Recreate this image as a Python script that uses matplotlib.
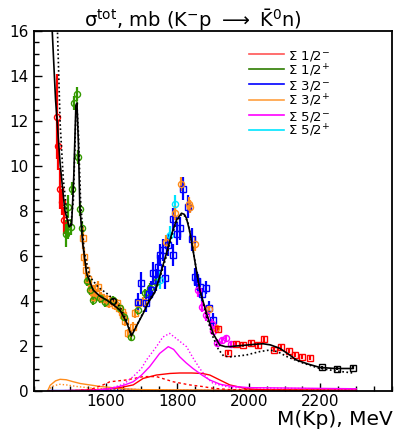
import matplotlib
matplotlib.use("Agg")
import matplotlib.pyplot as plt
from matplotlib.ticker import MultipleLocator

plt.rcParams["font.family"] = ["DejaVu Sans"]
plt.rcParams["mathtext.fontset"] = "dejavusans"

RED, GREEN, BLUE = "#ff0000", "#339900", "#0000ff"
ORANGE, MAGENTA, CYAN = "#ff8c1a", "#ff00ff", "#00e5ff"

# ---- measured points (mass in MeV, sigma in mb, error) ----
red_circ_m = [1463, 1468, 1473, 1477, 1484]
red_circ_s = [12.2, 10.9, 9.0, 8.4, 7.6]
red_circ_e = [1.9, 1.1, 0.9, 0.6, 0.6]

green_m = [1488, 1494, 1496, 1502, 1507, 1512, 1519, 1524, 1528, 1535,
           1549, 1556, 1565, 1584, 1597, 1621, 1640, 1652, 1671, 1690, 1710, 1725, 1742]
green_s = [7.0, 8.2, 7.15, 7.3, 9.0, 12.8, 13.2, 10.4, 8.1, 7.25,
           4.9, 4.5, 4.04, 4.12, 3.95, 4.04, 3.7, 3.3, 2.4, 3.6, 4.34, 4.6, 4.86]
green_e = [0.6, 0.5, 0.4, 0.35, 0.3, 0.3, 0.3, 0.3, 0.3, 0.3,
           0.25, 0.25, 0.2, 0.2, 0.2, 0.2, 0.2, 0.2, 0.15, 0.2, 0.2, 0.2, 0.2]

orange_sq_m = [1536, 1539, 1544, 1552, 1558, 1565, 1568, 1574, 1580, 1587, 1594, 1603,
               1610, 1619, 1626, 1633, 1638, 1645, 1649, 1655, 1663, 1677, 1682, 1691, 1705]
orange_sq_s = [6.8, 5.97, 5.4, 5.0, 4.6, 4.4, 4.19, 4.3, 4.64, 4.2, 4.1, 4.07,
               3.9, 4.0, 3.82, 3.9, 3.67, 3.5, 3.38, 3.1, 2.56, 2.86, 3.45, 3.9, 3.97]
orange_sq_e = [0.5, 0.4, 0.3, 0.3, 0.25, 0.25, 0.25, 0.25, 0.25, 0.2, 0.2, 0.2,
               0.2, 0.2, 0.2, 0.2, 0.2, 0.2, 0.2, 0.2, 0.2, 0.2, 0.2, 0.2, 0.2]

blue_m = [1691, 1700, 1714, 1722, 1728, 1733, 1742, 1747, 1753, 1761, 1765, 1775, 1789,
          1789, 1800, 1807, 1816, 1829, 1840, 1849, 1855, 1863, 1870, 1880, 1890, 1900]
blue_s = [3.97, 4.79, 3.9, 4.3, 4.49, 5.23, 4.93, 5.53, 6.04, 6.27, 5.04, 6.5, 7.63,
          6.04, 7.0, 7.23, 9.0, 8.2, 6.74, 5.05, 4.9, 4.64, 4.3, 4.6, 3.7, 3.15]
blue_e = [0.4, 0.5, 0.4, 0.4, 0.4, 0.5, 0.5, 0.5, 0.5, 0.5, 0.5, 0.5, 0.5,
          0.5, 0.5, 0.5, 0.5, 0.5, 0.5, 0.4, 0.4, 0.4, 0.3, 0.3, 0.3, 0.3]

cyan_m = [1751, 1779, 1793]
cyan_s = [4.93, 6.93, 8.33]
cyan_e = [0.4, 0.4, 0.4]

orange_circ_m = [1770, 1793, 1812, 1833, 1837, 1849, 1889, 1908]
orange_circ_s = [6.64, 7.92, 9.2, 8.3, 8.2, 6.53, 3.63, 2.81]
orange_circ_e = [0.3, 0.3, 0.3, 0.3, 0.3, 0.3, 0.2, 0.2]

magenta_m = [1858, 1870, 1880, 1896, 1900, 1910, 1924, 1935, 1951]
magenta_s = [4.5, 3.75, 3.38, 3.0, 2.68, 2.15, 2.27, 2.34, 2.09]
magenta_e = [0.3, 0.25, 0.25, 0.2, 0.2, 0.15, 0.15, 0.15, 0.15]

red_sq_m = [1914, 1942, 1965, 1984, 2005, 2026, 2042, 2070, 2091, 2111, 2128, 2148, 2170]
red_sq_s = [2.74, 1.7, 2.09, 2.04, 2.12, 2.03, 2.3, 1.82, 1.94, 1.79, 1.6, 1.52, 1.47]
red_sq_e = [0.12, 0.1, 0.1, 0.1, 0.1, 0.1, 0.1, 0.1, 0.1, 0.1, 0.1, 0.1, 0.1]

black_sq_m = [2205, 2246, 2291]
black_sq_s = [1.05, 1.0, 1.04]
black_sq_e = [0.05, 0.05, 0.05]

# ---- fitted totals ----
sol_m = [1450, 1460, 1473, 1486, 1498, 1505, 1511, 1517, 1520, 1524, 1528, 1536, 1547,
         1565, 1585, 1603, 1620, 1640, 1660, 1672, 1690, 1705, 1720, 1738, 1755, 1770,
         1785, 1798, 1812, 1820, 1826, 1835, 1844, 1863, 1882, 1900, 1919, 1935, 1947,
         1965, 1993, 2020, 2040, 2060, 2086, 2110, 2133, 2165, 2198, 2240, 2291]
sol_s = [16.3, 13.0, 10.1, 8.04, 7.3, 7.38, 9.5, 12.7, 12.8, 11.0, 8.2, 6.56, 5.23,
         4.49, 4.2, 4.04, 3.85, 3.6, 3.0, 2.44, 3.0, 3.45, 3.95, 4.4, 5.3, 6.12,
         7.0, 7.6, 7.9, 7.85, 7.67, 7.1, 6.27, 4.49, 3.45, 2.56, 2.04, 1.97, 1.97,
         2.0, 2.04, 2.08, 2.1, 2.05, 1.9, 1.65, 1.38, 1.2, 1.05, 1.0, 1.0]

dot_m = [1465, 1473, 1482, 1493, 1503, 1510, 1517, 1520, 1524, 1530, 1540, 1556, 1580,
         1603, 1620, 1640, 1658, 1672, 1690, 1705, 1720, 1738, 1755, 1770, 1785, 1798,
         1812, 1820, 1830, 1844, 1863, 1882, 1900, 1915, 1930, 1950, 1993, 2030, 2058,
         2080, 2110, 2150, 2198, 2250, 2291]
dot_s = [16.3, 11.9, 9.38, 7.75, 7.4, 8.5, 12.3, 12.7, 11.5, 8.5, 6.2, 5.08, 4.6,
         4.34, 4.1, 3.75, 3.16, 2.5, 3.0, 3.5, 4.0, 4.45, 5.2, 6.0, 6.9, 7.5,
         7.85, 7.8, 7.5, 6.3, 4.5, 3.3, 2.4, 1.85, 1.55, 1.52, 1.6, 1.75, 1.82,
         1.75, 1.5, 1.25, 1.0, 0.88, 0.8]

# ---- partial-wave contributions ----
or_sol_m = [1438, 1445, 1460, 1473, 1490, 1510, 1530, 1556, 1585, 1612, 1650, 1700, 1800, 1900, 2000, 2300]
or_sol_s = [0.0, 0.25, 0.45, 0.52, 0.5, 0.41, 0.33, 0.27, 0.2, 0.16, 0.1, 0.06, 0.05, 0.04, 0.04, 0.03]
or_dot_m = [1438, 1450, 1470, 1491, 1520, 1560, 1600, 1700, 2300]
or_dot_s = [0.0, 0.2, 0.3, 0.27, 0.2, 0.13, 0.08, 0.04, 0.02]

red_sol_m = [1438, 1500, 1560, 1600, 1640, 1677, 1705, 1742, 1780, 1807, 1840, 1870, 1891, 1919, 1947, 1993, 2050, 2300]
red_sol_s = [0.0, 0.02, 0.05, 0.08, 0.15, 0.27, 0.56, 0.71, 0.78, 0.8, 0.8, 0.78, 0.71, 0.49, 0.27, 0.1, 0.05, 0.04]
red_dot_m = [1438, 1520, 1560, 1590, 1612, 1658, 1705, 1742, 1789, 1835, 1870, 1900, 1950, 2300]
red_dot_s = [0.0, 0.02, 0.08, 0.25, 0.41, 0.49, 0.64, 0.64, 0.41, 0.27, 0.2, 0.12, 0.06, 0.03]

mag_sol_m = [1438, 1560, 1612, 1650, 1677, 1700, 1723, 1751, 1775, 1790, 1807, 1825, 1844, 1870, 1891, 1920, 1947, 2000, 2300]
mag_sol_s = [0.0, 0.02, 0.1, 0.25, 0.41, 0.7, 1.08, 1.67, 1.97, 1.85, 1.52, 1.25, 1.0, 0.7, 0.49, 0.3, 0.22, 0.15, 0.1]
mag_dot_m = [1438, 1580, 1620, 1650, 1677, 1700, 1714, 1742, 1760, 1779, 1800, 1826, 1845, 1863, 1885, 1900, 1950, 2300]
mag_dot_s = [0.0, 0.05, 0.15, 0.3, 0.64, 1.0, 1.38, 1.97, 2.4, 2.56, 2.3, 1.97, 1.45, 1.0, 0.55, 0.34, 0.15, 0.08]

flat_m = [1438, 2300]
green_flat = [0.02, 0.02]
blue_flat = [0.03, 0.03]
cyan_flat = [0.02, 0.02]
blue_dot_m = [1438, 1600, 1650, 1700, 1760, 2300]
blue_dot_s = [0.0, 0.04, 0.08, 0.06, 0.03, 0.02]

legend_labels = ["Σ 1/2$^{-}$", "Σ 1/2$^{+}$", "Σ 3/2$^{-}$",
                 "Σ 3/2$^{+}$", "Σ 5/2$^{-}$", "Σ 5/2$^{+}$"]
legend_colors = ["#ff5555", "#2e7d00", BLUE, "#ffa040", MAGENTA, CYAN]

W, H = 394, 429
fig = plt.figure(figsize=(W / 100, H / 100), dpi=100)
ax = fig.add_axes([34 / W, 1 - 391 / H, 358 / W, 360 / H])

# partial waves
ax.plot(flat_m, cyan_flat, color=CYAN, lw=2.2)
ax.plot(flat_m, green_flat, color=GREEN, lw=1)
ax.plot(flat_m, blue_flat, color=BLUE, lw=1)
ax.plot(blue_dot_m, blue_dot_s, color=BLUE, lw=1, ls=(0, (1, 1.5)))
ax.plot(or_sol_m, or_sol_s, color=ORANGE, lw=1)
ax.plot(or_dot_m, or_dot_s, color=ORANGE, lw=1, ls=(0, (1, 1.5)))
ax.plot(red_sol_m, red_sol_s, color=RED, lw=1)
ax.plot(red_dot_m, red_dot_s, color=RED, lw=1, ls=(0, (2, 2)))
ax.plot(mag_sol_m, mag_sol_s, color=MAGENTA, lw=1)
ax.plot(mag_dot_m, mag_dot_s, color=MAGENTA, lw=1, ls=(0, (1, 1.5)))


def pts(m, s, e, color, marker):
    ax.errorbar(m, s, yerr=e, fmt=marker, mfc="none", mec=color, ecolor=color,
                ms=4.4, mew=1.0, elinewidth=1.6, capsize=0, zorder=3)


pts(red_circ_m, red_circ_s, red_circ_e, RED, "o")
pts(orange_sq_m, orange_sq_s, orange_sq_e, ORANGE, "s")
pts(green_m, green_s, green_e, GREEN, "o")
pts(blue_m, blue_s, blue_e, BLUE, "s")
pts(cyan_m, cyan_s, cyan_e, CYAN, "o")
pts(orange_circ_m, orange_circ_s, orange_circ_e, ORANGE, "o")
pts(magenta_m, magenta_s, magenta_e, MAGENTA, "o")
pts(red_sq_m, red_sq_s, red_sq_e, RED, "s")
pts(black_sq_m, black_sq_s, black_sq_e, "black", "s")
pts([1621], [4.0], [0.15], "black", "o")

# totals
ax.plot(sol_m, sol_s, color="black", lw=1.2, zorder=4)
ax.plot(dot_m, dot_s, color="black", lw=1.2, ls=(0, (1, 1.5)), zorder=4)

ax.set_xlim(1400, 2400)
ax.set_ylim(0, 16)
ax.set_xticks([1600, 1800, 2000, 2200])
ax.xaxis.set_minor_locator(MultipleLocator(50))
ax.yaxis.set_major_locator(MultipleLocator(2))
ax.yaxis.set_minor_locator(MultipleLocator(0.5))
ax.tick_params(which="both", direction="in", top=False, right=False,
               labelsize=11, width=1)
ax.tick_params(which="major", length=6)
ax.tick_params(which="minor", length=3.5)
ax.tick_params(axis="x", pad=2)
ax.tick_params(axis="y", pad=4)
for sp in ax.spines.values():
    sp.set_linewidth(1.3)

fig.text(193 / W, 1 - 27 / H,
         "σ$^{\\mathrm{tot}}$, mb (K$^{-}$p $\\longrightarrow$ $\\bar{\\mathrm{K}}^{0}$n)",
         ha="center", va="baseline", fontsize=14)
fig.text(393 / W, 1 - 425 / H, "M(Kp), MeV", ha="right", va="baseline", fontsize=14.5)

# legend drawn in axes fraction coordinates
x0, x1, xt = (249 - 34) / 358, (284 - 34) / 358, (288 - 34) / 358
for i, (lab, c) in enumerate(zip(legend_labels, legend_colors)):
    yl = 1 - (54 + 15.2 * i - 31) / 360
    yb = 1 - (59.5 + 15.2 * i - 31) / 360
    ax.plot([x0, x1], [yl, yl], color=c, lw=1.2, transform=ax.transAxes)
    ax.text(xt, yb, lab, transform=ax.transAxes, fontsize=9.5, va="baseline")

fig.savefig("out.png", dpi=100)
